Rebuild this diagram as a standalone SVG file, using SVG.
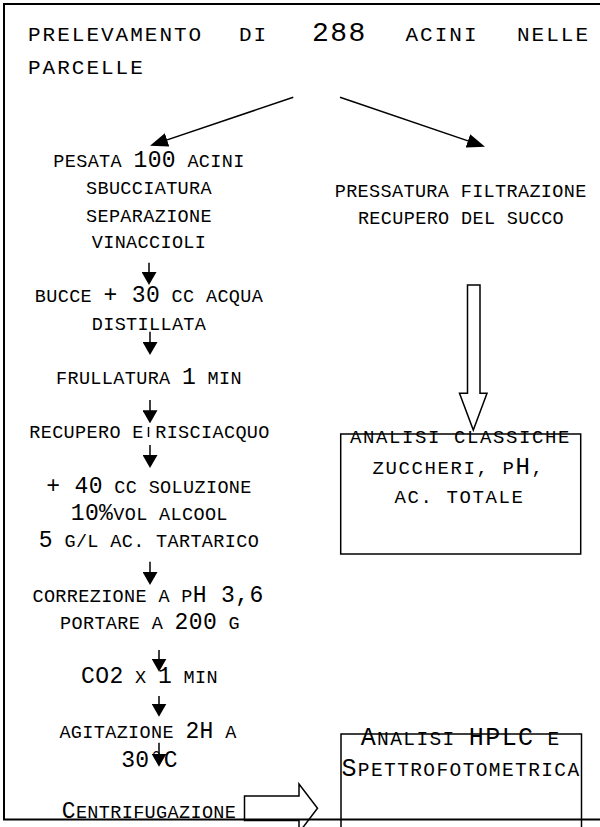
<svg xmlns="http://www.w3.org/2000/svg" width="600" height="827" viewBox="0 0 600 827">
<style>
text{font-family:"Liberation Mono","DejaVu Sans Mono",monospace;fill:#000}
.t{font-size:21px;letter-spacing:2px}
.T{font-size:28px;letter-spacing:1.5px}
.b{font-size:18.5px;letter-spacing:0.35px;text-anchor:middle}
.B{font-size:23px}
.c1{font-size:19px;letter-spacing:1.6px;text-anchor:middle}
.c1 .B{font-size:24px}
.c2{font-size:19.5px;letter-spacing:1.4px;text-anchor:middle}
.c2 .B{font-size:25px}
.ln{stroke:#000;stroke-width:1.5;fill:none}
.box{fill:#fff;stroke:#000;stroke-width:1.5}
.hol{fill:#fff;stroke:#000;stroke-width:1.5;stroke-linejoin:miter}
.frame{fill:none;stroke:#000;stroke-width:2}
</style>
<defs>
<marker id="ah" markerUnits="userSpaceOnUse" markerWidth="18" markerHeight="14" refX="14" refY="7" orient="auto"><path d="M0,0 L18,7 L0,14 z" fill="#000"/></marker>
<marker id="av" markerUnits="userSpaceOnUse" markerWidth="13" markerHeight="15" refX="9" refY="7.5" orient="auto"><path d="M0,0 L13,7.5 L0,15 z" fill="#000"/></marker>
</defs>
<rect width="600" height="827" fill="#fff"/>

<g id="n-prelevamento">
<text class="t" y="40.7"><tspan x="28">PRELEVAMENTO</tspan><tspan x="239">DI</tspan><tspan class="T" x="312">288</tspan><tspan x="405.5">ACINI</tspan><tspan x="517">NELLE</tspan></text>
<text class="t" x="28" y="74">PARCELLE</text>
</g>

<g id="n-pesata">
<text class="b" x="149" y="167.3">PESATA <tspan class="B">100</tspan> ACINI</text>
<text class="b" x="149" y="194.3">SBUCCIATURA</text>
<text class="b" x="149" y="221.7">SEPARAZIONE</text>
<text class="b" x="149" y="248">VINACCIOLI</text>
</g>
<g id="n-bucce">
<text class="b" x="149" y="302.3">BUCCE <tspan class="B">+ 30</tspan> CC ACQUA</text>
<text class="b" x="149" y="330">DISTILLATA</text>
</g>
<g id="n-frullatura"><text class="b" x="149" y="384.3">FRULLATURA <tspan class="B">1</tspan> MIN</text></g>
<g id="n-recupero"><text class="b" x="149.5" y="438.3">RECUPERO E RISCIACQUO</text></g>
<g id="n-soluzione">
<text class="b" x="149" y="493.3"><tspan class="B">+ 40</tspan> CC SOLUZIONE</text>
<text class="b" x="149.3" y="520"><tspan class="B">10%</tspan>VOL ALCOOL</text>
<text class="b" x="149" y="546.7"><tspan class="B">5</tspan> G/L AC. TARTARICO</text>
</g>
<g id="n-correzione">
<text class="b" x="148" y="601.7">CORREZIONE A P<tspan class="B">H 3,6</tspan></text>
<text class="b" x="150" y="629.3">PORTARE A <tspan class="B">200</tspan> G</text>
</g>
<g id="n-co2"><text class="b" x="149.5" y="683.3"><tspan class="B">CO2</tspan> X <tspan class="B">1</tspan> MIN</text></g>
<g id="n-agitazione">
<text class="b" x="148" y="738.3">AGITAZIONE <tspan class="B">2H</tspan> A</text>
<text class="b" x="149.5" y="766.7"><tspan class="B">30°C</tspan></text>
</g>
<g id="n-centrifugazione"><text class="b" x="149" y="818"><tspan class="B">C</tspan>ENTRIFUGAZIONE</text></g>

<g id="n-pressatura">
<text class="b" x="460.7" y="196.7">PRESSATURA FILTRAZIONE</text>
<text class="b" x="461" y="224">RECUPERO DEL SUCCO</text>
</g>

<g id="n-analisi-classiche">
<rect class="box" x="340.7" y="434" width="240" height="120"/>
<text class="c1" x="460.5" y="442.7">ANALISI CLASSICHE</text>
<text class="c1" x="458.5" y="474">ZUCCHERI, P<tspan class="B">H</tspan>,</text>
<text class="c1" x="459.5" y="503.3">AC. TOTALE</text>
</g>

<g id="n-analisi-hplc">
<rect class="box" x="341" y="734" width="240.5" height="110"/>
<text class="c2" x="460.7" y="745"><tspan class="B">A</tspan>NALISI <tspan class="B">HPLC</tspan> E</text>
<text class="c2" x="461" y="776"><tspan class="B">S</tspan>PETTROFOTOMETRICA</text>
</g>

<g id="connectors">
<line class="ln" x1="293.3" y1="97.3" x2="153.8" y2="144.4" marker-end="url(#ah)"/>
<line class="ln" x1="340" y1="97.3" x2="481.2" y2="145.4" marker-end="url(#ah)"/>
<line class="ln" x1="149" y1="262.7" x2="149" y2="281" marker-end="url(#av)"/>
<line class="ln" x1="150" y1="331.7" x2="150" y2="351" marker-end="url(#av)"/>
<line class="ln" x1="150" y1="400" x2="150" y2="419.3" marker-end="url(#av)"/>
<line class="ln" x1="148.5" y1="427" x2="148.5" y2="437"/>
<line class="ln" x1="150" y1="445" x2="150" y2="464" marker-end="url(#av)"/>
<line class="ln" x1="150" y1="561.7" x2="150" y2="581" marker-end="url(#av)"/>
<line class="ln" x1="159" y1="650" x2="159" y2="667.7" marker-end="url(#av)"/>
<line class="ln" x1="159" y1="696" x2="159" y2="712.7" marker-end="url(#av)"/>
<line class="ln" x1="159" y1="742.7" x2="159" y2="762.7" marker-end="url(#av)"/>
<polygon class="hol" points="467.5,285 480,285 480,393.3 487,393.3 473.3,430 459.5,393.3 467.5,393.3"/>
<polygon class="hol" points="244.5,796 299,796 299,784 317.5,808.3 299,832.6 299,820.6 244.5,820.6"/>
</g>

<g id="frame">
<path class="frame" d="M601,4 H4 V819.5 H601"/>
</g>
</svg>
